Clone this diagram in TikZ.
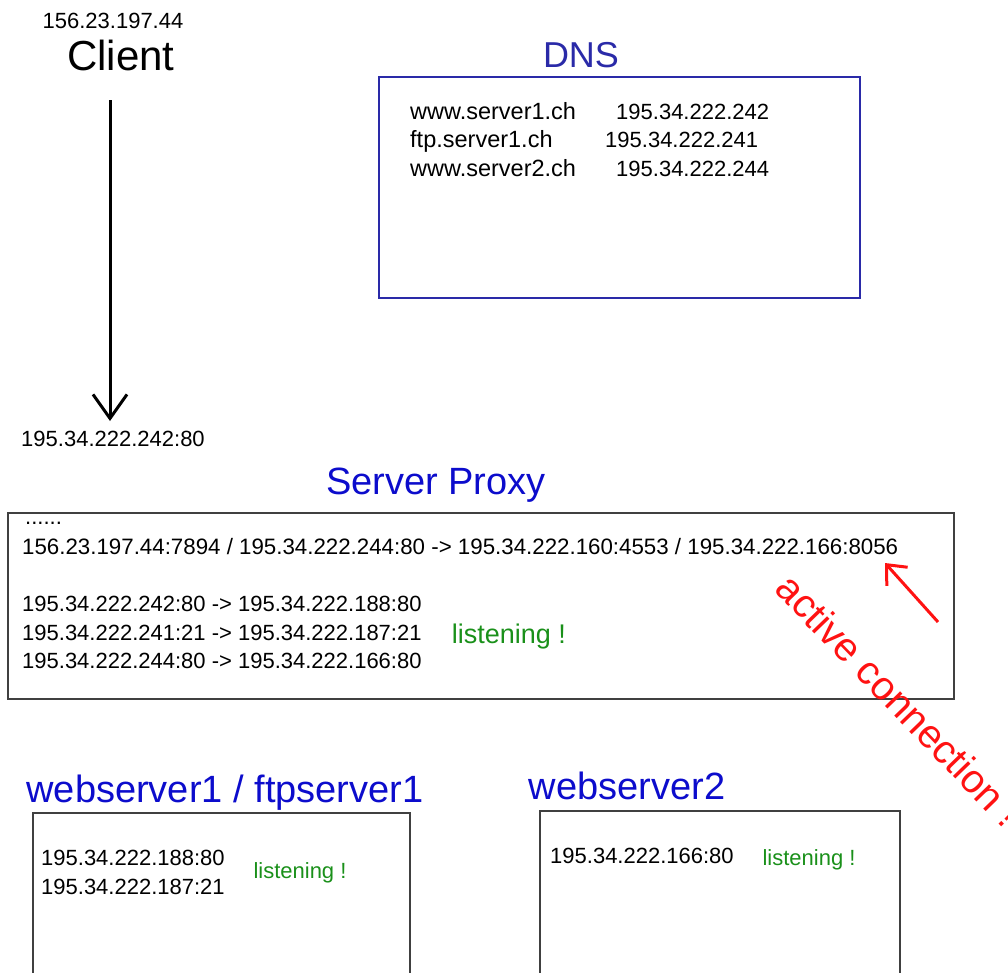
\documentclass[tikz,border=0pt]{standalone}
\usepackage{fontspec}
\setmainfont{Liberation Sans}
\usetikzlibrary{arrows.meta}
\usetikzlibrary{shapes}
\definecolor{dnsblau}{HTML}{2A2AA8}
\definecolor{titelblau}{HTML}{0C0CCC}
\definecolor{gruen}{HTML}{1A901A}
\definecolor{rot}{HTML}{FF1212}

\begin{document}
\begin{tikzpicture}[x=1pt,y=-1pt,>={Straight Barb[length=24pt,width=34pt]},
        every edge/.style={draw=black,line width=3pt},
        ip/.style={anchor=base west,inner sep=0pt,font=\fontsize{22}{26}\selectfont},
        titel/.style={anchor=base,inner sep=0pt,font=\fontsize{38}{44}\selectfont,titelblau},
        kasten/.style={draw=black!75,line width=1.8pt,rectangle,inner sep=0pt},
        hoert/.style={anchor=base,inner sep=0pt,gruen,font=\fontsize{22}{26}\selectfont}]
        \useasboundingbox (0,0) rectangle (1008,972);

        % client
        \node[anchor=base, inner sep=0pt, font=\fontsize{22}{26}\selectfont] (cip) at (113, 28) {156.23.197.44};
        \node[anchor=base, inner sep=0pt, font=\fontsize{42}{48}\selectfont] (C) at (121, 70) {Client};

        \coordinate (Cout) at (110, 100);
        \coordinate (Cin) at (110, 421);
        \node[anchor=base, inner sep=0pt, font=\fontsize{22}{26}\selectfont] (pip) at (113, 446) {195.34.222.242:80};

        % DNS
        \node[titel, dnsblau, font=\fontsize{36}{42}\selectfont] (D) at (581, 67) {DNS};
        \node[kasten, draw=dnsblau, line width=1.6pt, minimum width=481, minimum height=221] (DB) at (619.5, 187.5) {};
        \node[ip, font=\fontsize{23.5}{26}\selectfont] (d1) at (410, 119) {www.server1.ch};
        \node[ip] (a1) at (616, 119) {195.34.222.242};
        \node[ip, font=\fontsize{23.5}{26}\selectfont] (d2) at (410, 147) {ftp.server1.ch};
        \node[ip] (a2) at (605, 147) {195.34.222.241};
        \node[ip, font=\fontsize{23.5}{26}\selectfont] (d3) at (410, 176) {www.server2.ch};
        \node[ip] (a3) at (616, 176) {195.34.222.244};

        % proxy
        \node[titel] (P) at (436, 494) {Server Proxy};
        \node[kasten, minimum width=946, minimum height=186] (PB) at (481, 606) {};
        \node[ip] (p0) at (25, 524) {......};
        \node[ip, font=\fontsize{22.3}{26}\selectfont] (p1) at (22, 554) {156.23.197.44:7894 / 195.34.222.244:80 -> 195.34.222.160:4553 / 195.34.222.166:8056};
        \node[ip] (p2) at (22, 611) {195.34.222.242:80 -> 195.34.222.188:80};
        \node[ip] (p3) at (22, 640) {195.34.222.241:21 -> 195.34.222.187:21};
        \node[ip] (p4) at (22, 668) {195.34.222.244:80 -> 195.34.222.166:80};
        \node[hoert, font=\fontsize{27}{32}\selectfont] (pl) at (509, 643) {listening !};

        \coordinate (Rout) at (938, 622);
        \coordinate (Rin) at (885, 563);
        \node[rot, rotate=-46, inner sep=0pt, font=\fontsize{40}{46}\selectfont] (AC) at (899, 700) {active connection !};

        % webserver1 / ftpserver1
        \node[titel] (W1) at (225, 802) {webserver1 / ftpserver1};
        \node[kasten, minimum width=377, minimum height=187] (W1B) at (221.5, 906.5) {};
        \node[ip] (w1a) at (41, 865) {195.34.222.188:80};
        \node[ip] (w1b) at (41, 894) {195.34.222.187:21};
        \node[hoert] (w1l) at (300, 878) {listening !};

        % webserver2
        \node[titel] (W2) at (627, 799) {webserver2};
        \node[kasten, minimum width=360, minimum height=189] (W2B) at (720, 905.5) {};
        \node[ip] (w2a) at (550, 863) {195.34.222.166:80};
        \node[hoert] (w2l) at (809, 865) {listening !};

        \path [->](Cout) edge (Cin);
        \path [->,>={Straight Barb[length=16pt,width=28pt]}](Rout) edge[draw=rot] (Rin);

    \end{tikzpicture}
\end{document}
